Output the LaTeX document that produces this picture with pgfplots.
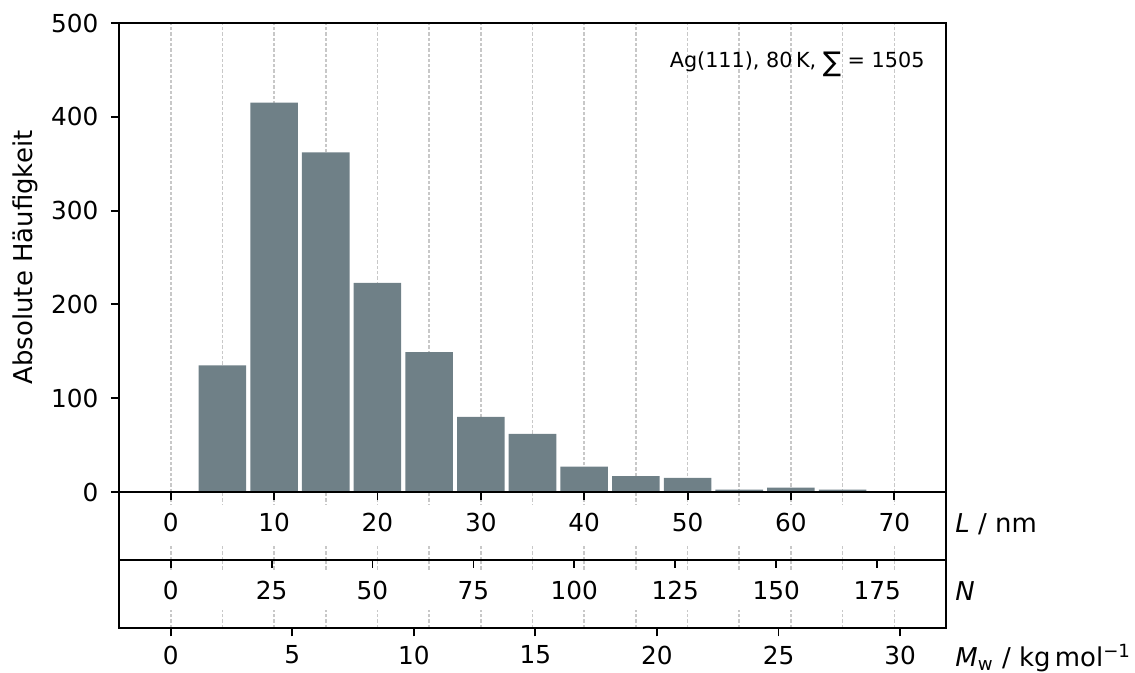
\documentclass[border=0pt]{standalone}
\usepackage{fontspec}
\setmainfont{DejaVu Sans}
\usepackage{pgfplots}
\pgfplotsset{compat=1.18}

\definecolor{barcol}{RGB}{111,128,135}
\definecolor{gridcol}{RGB}{200,200,200}

% grid behind the bars, frame and ticks above them
\pgfplotsset{
  layers/gridbelow/.define layer set={
    axis background,axis grid,main,axis ticks,axis lines,axis tick labels,axis descriptions,axis foreground
  }{/pgfplots/layers/standard},
  every axis/.append style={
    set layers=gridbelow,
    scale only axis,
    clip=false,
    width=350.65pt,
    xmin=-5, xmax=75,
    axis line style={line width=0.8pt},
    every tick/.style={black, line width=0.8pt},
    major tick length=3.5pt,
    minor tick length=0pt,
    /pgf/number format/assume math mode=true,
    ticklabel style={font=\fontsize{10.5}{12}\selectfont},
    minor grid style={gridcol, line width=0.7pt, dash pattern=on 1.4pt off 0.85pt},
  },
}

\begin{document}
\begin{tikzpicture}

% histogram of chain lengths
\begin{axis}[
  at={(0pt,0pt)}, anchor=north west,
  height=198.86pt,
  ymin=0, ymax=500,
  ytick={0,100,...,500},
  xtick={0,10,...,70}, xticklabels={},
  minor xtick={0,5,...,70}, xminorgrids,
  tick align=outside, xtick pos=lower, ytick pos=left,
  yticklabel style={xshift=-1.7pt},
  ylabel={Absolute Häufigkeit},
  ylabel style={at={(axis description cs:0,0.5)}, anchor=center, yshift=39.9pt, font=\fontsize{11}{13}\selectfont},
  ybar, bar width=4.6,
]
\addplot[fill=barcol, draw=none] coordinates {
  (5,135) (10,415) (15,362) (20,223) (25,149) (30,80) (35,62)
  (40,27) (45,17) (50,15) (55,2.5) (60,4.6) (65,2.5)
};
\node[anchor=base east, inner sep=0pt, xshift=-8.9pt, yshift=-18.9pt,
      font=\fontsize{8.8}{10}\selectfont] at (rel axis cs:1,1)
  {Ag(111), 80\,K, \raisebox{-1.6pt}{\fontsize{11.5}{11.5}\selectfont ∑} = 1505};
\end{axis}

% length scale
\begin{axis}[
  at={(0pt,-198.86pt)}, anchor=north west,
  height=28.83pt,
  ymin=0, ymax=1, ytick=\empty,
  xtick={0,10,...,70}, xtick pos=upper, xticklabel pos=upper,
  major tick length=0pt,
  minor xtick={0,5,...,70}, xminorgrids,
  xticklabel style={anchor=center, yshift=-13.1pt},
]
\fill[white] (rel axis cs:0,0.22) rectangle (rel axis cs:1,0.81);
\node[anchor=base west, inner sep=0pt, xshift=3.8pt, font=\fontsize{11}{13}\selectfont]
  at (rel axis cs:1,0.41) {\textit{L} / nm};
\end{axis}

% molar mass scale, with grid of the length scale
\begin{axis}[
  at={(0pt,-227.69pt)}, anchor=north west,
  height=28.83pt,
  ymin=0, ymax=1, ytick=\empty,
  xtick={0,11.76,23.52,35.28,47.04,58.8,70.56},
  xticklabels={0,5,10,15,20,25,30},
  xtick pos=lower, tick align=outside,
  minor xtick={0,5,...,70}, xminorgrids,
  xticklabel style={anchor=center, yshift=-8pt},
]
\fill[white] (rel axis cs:0,0.26) rectangle (rel axis cs:1,0.82);
\node[anchor=base west, inner sep=0pt, xshift=3.8pt, yshift=-16.5pt, font=\fontsize{11}{13}\selectfont]
  at (rel axis cs:1,0)
  {\textit{M}\textsubscript{w} / kg\,mol\textsuperscript{−1}};
\end{axis}

% number of repeat units
\begin{axis}[
  at={(0pt,-227.69pt)}, anchor=north west,
  height=28.83pt,
  ymin=0, ymax=1, ytick=\empty,
  axis line style={draw=none},
  xtick={0,9.76,19.52,29.29,39.05,48.81,58.57,68.34},
  xticklabels={0,25,50,75,100,125,150,175},
  xtick pos=upper, xticklabel pos=upper, tick align=inside,
  major tick length=3.2pt,
  xticklabel style={anchor=center, yshift=-13.1pt},
]
\node[anchor=base west, inner sep=0pt, xshift=3.8pt, font=\fontsize{11}{13}\selectfont]
  at (rel axis cs:1,0.41) {\textit{N}};
\end{axis}

\pgfresetboundingbox
\useasboundingbox (-50.46pt,9.75pt) rectangle (430.78pt,-275.6pt);
\end{tikzpicture}
\end{document}
